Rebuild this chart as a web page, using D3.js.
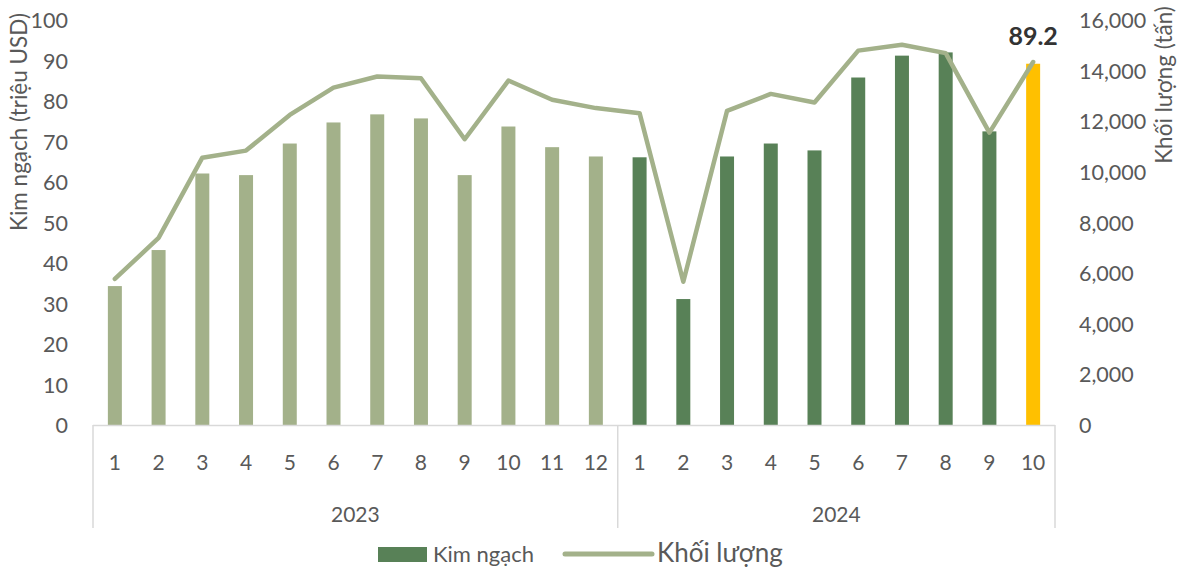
<!DOCTYPE html>
<html>
<head>
<meta charset="utf-8">
<script src="https://cdn.jsdelivr.net/npm/d3@7"></script>
<style>
	body{margin:0;background:#fff;}
	text{font-family:Lato,'Noto Sans',sans-serif;fill:#595959;}
</style>
</head>
<body>
<svg id="chart" width="1178" height="567"></svg>
<script>
const months = ['1','2','3','4','5','6','7','8','9','10','11','12','1','2','3','4','5','6','7','8','9','10']
const years = ['2023','2024']
const year_counts = [12,10]
const kim_ngach = [34.3,43.2,62.1,61.7,69.5,74.7,76.7,75.7,61.7,73.7,68.6,66.3,66.1,31.1,66.3,69.5,67.8,85.8,91.2,92.0,72.5,89.2]
const khoi_luong = [5770,7390,10560,10840,12250,13330,13770,13700,11290,13610,12850,12520,12320,5660,12410,13080,12740,14790,15020,14690,11550,14340]
const left_ticks = [0,10,20,30,40,50,60,70,80,90,100]
const right_ticks = [0,2000,4000,6000,8000,10000,12000,14000,16000]

let plot = {left: 93, right: 1055, top: 20, bottom: 425}

const svg = d3.select('#chart')

const xScale = d3.scaleBand()
	.domain(d3.range(months.length))
	.range([plot.left,plot.right])
	.paddingInner(0.68)
	.paddingOuter(0.34)

const yLeft = d3.scaleLinear().domain([0,100]).range([plot.bottom,plot.top])
const yRight = d3.scaleLinear().domain([0,16000]).range([plot.bottom,plot.top])

const bar_colour = i => {
	if(i == months.length - 1) return '#ffc000'
	if(i < year_counts[0]) return '#a3b18a'
	return '#588157'
}

/*bars*/
svg.append('g')
	.selectAll('rect')
	.data(kim_ngach)
	.enter()
	.append('rect')
	.attr('x',(d,i) => xScale(i))
	.attr('width',xScale.bandwidth())
	.attr('y',d => yLeft(d))
	.attr('height',d => plot.bottom - yLeft(d))
	.attr('fill',(d,i) => bar_colour(i))

/*category axis box*/
const step = xScale.step()
const axis = svg.append('g')
axis.append('line')
	.attr('x1',plot.left).attr('x2',plot.right)
	.attr('y1',plot.bottom + 0.5).attr('y2',plot.bottom + 0.5)
	.attr('stroke','#d9d9d9').attr('stroke-width',1.5)

let edges = [0]
year_counts.forEach((c,i) => edges.push(edges[i] + c))
axis.selectAll('.sep')
	.data(edges)
	.enter()
	.append('line')
	.attr('x1',d => plot.left + d * step).attr('x2',d => plot.left + d * step)
	.attr('y1',plot.bottom).attr('y2',528)
	.attr('stroke','#d9d9d9').attr('stroke-width',1.5)

axis.selectAll('.month')
	.data(months)
	.enter()
	.append('text')
	.attr('x',(d,i) => xScale(i) + xScale.bandwidth() / 2)
	.attr('y',470)
	.attr('text-anchor','middle')
	.attr('font-size',21)
	.text(d => d)

axis.selectAll('.year')
	.data(years)
	.enter()
	.append('text')
	.attr('x',(d,i) => plot.left + (edges[i] + edges[i+1]) / 2 * step)
	.attr('y',522)
	.attr('text-anchor','middle')
	.attr('font-size',21)
	.text(d => d)

/*value axes*/
svg.append('g')
	.selectAll('text')
	.data(left_ticks)
	.enter()
	.append('text')
	.attr('x',68)
	.attr('y',d => yLeft(d) + 8)
	.attr('text-anchor','end')
	.attr('font-size',21.5)
	.text(d => d)

svg.append('g')
	.selectAll('text')
	.data(right_ticks)
	.enter()
	.append('text')
	.attr('x',1079)
	.attr('y',d => yRight(d) + 8)
	.attr('font-size',21.5)
	.text(d3.format(','))

svg.append('text')
	.attr('transform','translate(27,122) rotate(-90)')
	.attr('text-anchor','middle')
	.attr('font-size',22.5)
	.text('Kim ngạch (triệu USD)')

svg.append('text')
	.attr('transform','translate(1172,85) rotate(-90)')
	.attr('text-anchor','middle')
	.attr('font-size',22.5)
	.text('Khối lượng (tấn)')

/*line*/
const line = d3.line()
	.x((d,i) => xScale(i) + xScale.bandwidth() / 2)
	.y(d => yRight(d))

svg.append('path')
	.datum(khoi_luong)
	.attr('d',line)
	.attr('fill','none')
	.attr('stroke','#a3b18a')
	.attr('stroke-width',4.5)
	.attr('stroke-linejoin','round')
	.attr('stroke-linecap','round')

/*last value label*/
const last = kim_ngach.length - 1
svg.append('text')
	.attr('x',xScale(last) + xScale.bandwidth() / 2)
	.attr('y',45)
	.attr('text-anchor','middle')
	.attr('font-size',25)
	.attr('font-weight','bold')
	.style('fill','#333')
	.text(kim_ngach[last])

/*legend*/
const legend = svg.append('g')
legend.append('rect')
	.attr('x',378).attr('y',547)
	.attr('width',49).attr('height',15)
	.attr('fill','#588157')
legend.append('text')
	.attr('x',433).attr('y',562)
	.attr('font-size',22)
	.text('Kim ngạch')
legend.append('line')
	.attr('x1',565).attr('x2',652)
	.attr('y1',554).attr('y2',554)
	.attr('stroke','#a3b18a')
	.attr('stroke-width',5)
	.attr('stroke-linecap','round')
legend.append('text')
	.attr('x',657).attr('y',562)
	.attr('font-size',26)
	.text('Khối lượng')
</script>
</body>
</html>
